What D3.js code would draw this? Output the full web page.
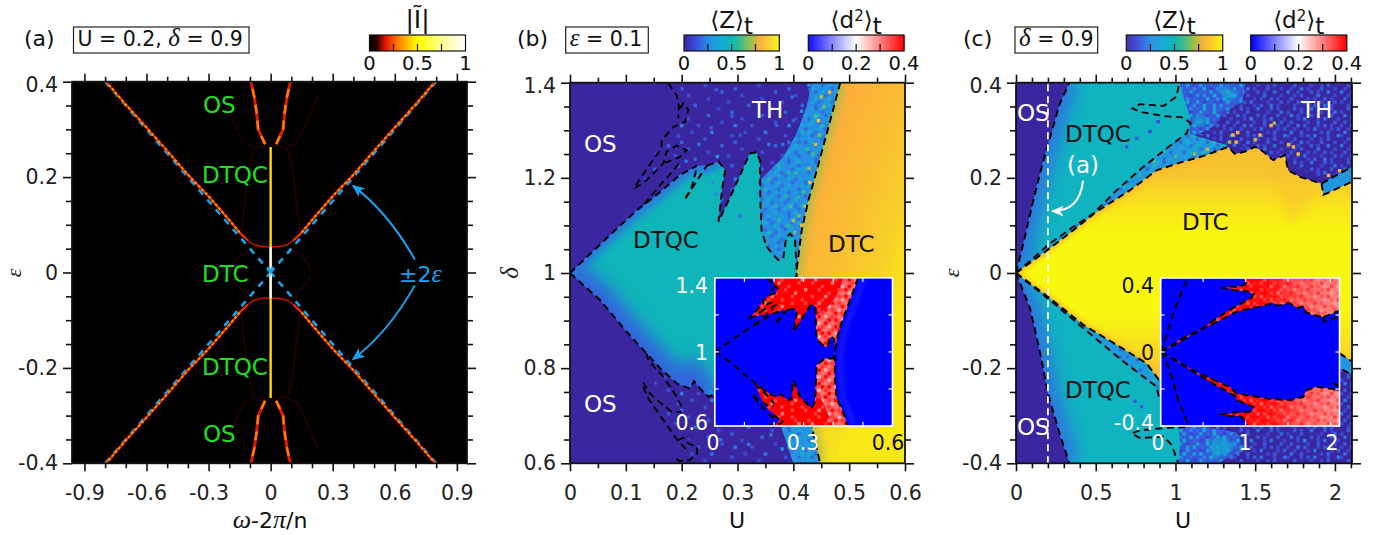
<!DOCTYPE html>
<html>
<head>
<meta charset="utf-8">
<script src="https://cdnjs.cloudflare.com/ajax/libs/d3/7.8.5/d3.min.js"></script>
<style>
  html, body { margin: 0; background: #fff; }
  svg text { font-family: "DejaVu Sans", sans-serif; fill: #222; }
</style>
</head>
<body>
<div id="vis"></div>
<script>
// ---- panel (a): spectral lines, one quadrant, [omega, eps]
var aMainLine = [[0,.054],[.04,.054],[.08,.058],[.11,.067],[.15,.084],[.2,.11],[.3,.16],[.4,.205],[.5,.255],[.6,.304],[.7,.352],[.795,.4]];
var aInnerLine = [[.027,.269],[.06,.3],[.068,.336],[.08,.37],[.095,.4]];
var aFaintLines = [
  [[0,.265],[.03,.265],[.08,.26],[.105,.22],[.13,.13],[.14,.09]],
  [[.08,.265],[.12,.27],[.15,.29],[.2,.34],[.23,.37]],
  [[.07,.055],[.13,.04],[.17,.025],[.195,.005]]
];
var aStripes = [.285,.31,.335,.365,.39];
var aGuide = [[.8,.4],[0,0]];
var aArrow = [[.697,.027],[.57,.125],[.4,.181]];
var aXTicks = [-.9,-.6,-.3,0,.3,.6,.9];
var aXMinor = [-.8,-.7,-.5,-.4,-.2,-.1,.1,.2,.4,.5,.7,.8];
var epsTicks = [-.4,-.2,0,.2,.4];
var epsMinor = [-.35,-.3,-.25,-.15,-.1,-.05,.05,.1,.15,.25,.3,.35];

// ---- panel (b): region edges, [U, delta]
var bDtcEdge = [[.484,1.4],[.463,1.307],[.442,1.216],[.427,1.153],[.415,1.09],[.406,1.007],[.405,.93],[.406,.85],[.4115,.749],[.433,.678],[.448,.6]];
var bTealUpper = [[0,1],[.081,1.09],[.119,1.131],[.155,1.164],[.197,1.206],[.227,1.225],[.245,1.226],[.266,1.234],[.278,1.216],[.273,1.181],[.266,1.108],[.287,1.16],[.322,1.251],[.334,1.254],[.34,1.237],[.341,1.153],[.343,1.09],[.352,1.055],[.373,1.027],[.382,1.031],[.387,1.073],[.394,1.083],[.403,1.069],[.406,1.007]];
var bTealLower = [[0,1],[.054,.943],[.101,.877],[.137,.831],[.161,.8],[.191,.768],[.215,.757],[.222,.773],[.233,.757],[.248,.74],[.259,.745],[.265,.848],[.287,.758],[.327,.695],[.338,.731],[.344,.929],[.372,.965],[.4,.965],[.406,1]];
var bBandLeft = [[.433,1.4],[.424,1.35],[.406,1.293],[.382,1.244],[.358,1.216],[.341,1.195]];
var bThTopEdge = [[.197,1.4],[.2,1.36],[.212,1.343],[.206,1.318],[.185,1.307],[.164,1.279],[.14,1.223],[.116,1.18],[.155,1.2],[.197,1.206]];
var bThBottomEdge = [[.35,.78],[.4,.6],[.203,.6],[.22,.64],[.18,.69],[.16,.74],[.135,.83]];
var bBandBottom = [[.4,.6],[.35,.78]];
var bBranch = [[.207,1.157],[.218,1.181],[.227,1.22]];
var bBranch2 = [[.207,1.157],[.245,1.226]];
var bLobes = [
  [[.176,1.399],[.191,1.374],[.195,1.35],[.194,1.325]],
  [[.197,1.346],[.203,1.357],[.212,1.343],[.206,1.318],[.185,1.307],[.164,1.279],[.164,1.262],[.14,1.223],[.116,1.181]],
  [[.116,1.178],[.137,1.195],[.167,1.23],[.173,1.255],[.191,1.268],[.209,1.258],[.197,1.244],[.167,1.23]],
  [[.133,1.145],[.167,1.192],[.197,1.232]],
  [[.137,.831],[.14,.817],[.167,.782],[.191,.74],[.2,.719]],
  [[.131,.77],[.143,.747],[.167,.722],[.182,.708],[.2,.708]],
  [[.131,.761],[.14,.737],[.161,.701],[.191,.651],[.209,.628]],
  [[.194,.649],[.203,.654],[.212,.642],[.227,.635],[.228,.621],[.215,.607],[.197,.605],[.185,.612]]
];
// single noisy cells in (b), [U, delta, Z]
var bCells = [[.262,1.385,.15],[.231,1.27,.2],[.208,1.235,.2],[.264,1.245,.3],[.305,1.29,.15],[.356,1.27,.2],[.381,1.27,.2],[.34,1.19,.2],[.337,1.17,.25],[.398,1.37,.2],[.415,1.34,.3],[.37,1.31,.15],[.29,1.33,.15],[.253,1.305,.15],[.4,1.32,.15],[.43,1.385,.2],[.428,1.395,.3],[.243,1.215,.2],[.256,1.19,.25],[.262,1.165,.25],[.305,1.12,.2],[.255,.755,.2],[.27,.65,.2],[.32,.64,.2],[.36,.66,.2],[.38,.63,.3],[.25,.75,.25],
  [.445,1.32,.85],[.44,1.27,.75],[.428,1.22,.7],[.43,1.19,.85],[.42,1.14,.7],[.41,1.12,.65],[.4,1.11,.7],[.415,1.1,.8],[.403,1.085,.65],[.39,1.1,.55],[.45,1.37,.75],[.465,1.38,.8],[.455,1.35,.65],[.447,1.29,.65],[.435,1.25,.6],[.418,1.17,.6],[.395,1.14,.6],[.41,1.16,.55],[.405,1.21,.55],[.425,1.26,.55],[.44,1.33,.6]];
var bXTicks = [0,.1,.2,.3,.4,.5,.6];
var bXMinor = [.05,.15,.25,.35,.45,.55];
var bYTicks = [.6,.8,1,1.2,1.4];
var bYMinor = [.65,.7,.75,.85,.9,.95,1.05,1.1,1.15,1.25,1.3,1.35];

// ---- panel (c): region edges, [U, eps]
var cOsUpper = [[0,0],[.046,.062],[.109,.153],[.15,.209],[.203,.273],[.276,.357],[.335,.4]];
var cOsLower = [[0,0],[.088,-.074],[.15,-.165],[.203,-.256],[.276,-.34],[.335,-.4]];
var cDtcUpper = [[0,0],[.213,.052],[.359,.09],[.506,.129],[.715,.174],[.882,.216],[1.028,.232],[1.175,.246],[1.331,.265],[1.373,.25],[1.436,.255],[1.498,.265],[1.551,.255],[1.613,.237],[1.686,.248],[1.707,.216],[1.781,.202],[1.916,.188]];
var cDtcTail = [[1.916,.188],[1.99,.202],[2.107,.223]];
var cYellowTopEdge = [[1.916,.188],[1.927,.164],[2.107,.192]];
var cDtcLower = [[0,0],[.213,-.053],[.422,-.109],[.631,-.151],[.819,-.19],[.895,-.224],[1.287,-.254],[1.523,-.26],[1.68,-.242],[1.719,-.206],[1.837,-.188]];
var cDtcLowerTail = [[1.837,-.188],[2.03,-.2],[2.107,-.214]];
var cYellowBottomEdge = [[1.837,-.165],[2.03,-.169],[2.107,-.186]];
var cOuterUpper = [[0,0],[.213,.062],[.359,.097],[.485,.125],[.631,.174],[.798,.223],[.945,.262],[1.07,.294],[1.095,.315],[1.049,.327],[.924,.33],[.777,.339],[.731,.346],[.777,.355],[.924,.351],[1.007,.371],[1.024,.4]];
var cOuterLower = [[0,0],[.213,-.057],[.422,-.116],[.673,-.186],[.882,-.239],[.895,-.26],[1.05,-.29],[1.091,-.296],[1.071,-.323],[.924,-.326],[.777,-.331],[.725,-.337],[.777,-.347],[.924,-.344],[.976,-.361],[1.018,-.4]];
var cTealUpperEdge = [[1.024,.4],[1.05,.37],[1.09,.33],[1.09,.294],[1.07,.273],[.945,.237],[.5,.1]];
var cTealLowerEdge = [[1.018,-.4],[1.03,-.36],[1.02,-.327],[1.09,-.294],[.945,-.237],[.5,-.1]];
var cFringeUpper = [[1.02,.4],[1.44,.4],[1.42,.36],[1.3,.335],[1.25,.31],[1.1,.285],[1.05,.33]];
var cFringeLower = [[1.0,-.4],[1.26,-.4],[1.44,-.37],[1.38,-.335],[1.1,-.32],[1.0,-.33]];
var cBlobs = [[[1.26,.388],[1.34,.39],[1.39,.372],[1.32,.36]],[[1.12,.328],[1.19,.33],[1.19,.314],[1.11,.305]],[[1.22,-.39],[1.3,-.385],[1.38,-.362],[1.3,-.345],[1.22,-.35]]];
var cThUpperEdge = [[2.107,.223],[2.107,.4],[.98,.4],[1.013,.361],[.75,.348],[1.09,.316],[1.07,.294],[.945,.262],[.798,.223],[.631,.174],[.485,.125],[.359,.097],[.213,.062],[0,0]];
var cThLowerEdge = [[.213,-.057],[.422,-.116],[.673,-.186],[.882,-.239],[.895,-.26],[1.091,-.296],[1.071,-.323],[.72,-.337],[.97,-.35],[1.02,-.4],[2.107,-.4],[2.107,-.214],[2.03,-.2],[1.837,-.188]];
var cNoiseZone = [[1.02,.4],[2.107,.4],[2.107,-.4],[.95,-.4],[.95,-.3],[2.02,-.17],[2.02,.19],[1.33,.27],[1.07,.3]];
var cFaintWedge = [[1.6,.23],[1.9,.175],[1.72,.105]];
var cCells = [[.694,.265,.15],[.757,.283,.15],[.84,.297,.12],[.892,.318,.12],[.746,-.27,.15],[.788,-.281,.15],
  [1.36,.29,.85],[1.39,.295,.8],[1.53,.29,.8],[1.6,.31,.8],[1.62,.315,.7],[1.74,.265,.8],[1.77,.25,.85],[1.71,.27,.8],[1.38,.275,.85],[1.34,.275,.7],[1.12,.25,.7],[1.0,.245,.6],[.87,.235,.6],[.78,.205,.55],[1.2,.26,.75],[1.5,.28,.75],[1.96,.205,.8],[2.03,.215,.8]];
var cXTicks = [0,.5,1,1.5,2];
var cXMinor = [.1,.2,.3,.4,.6,.7,.8,.9,1.1,1.2,1.3,1.4,1.6,1.7,1.8,1.9,2.1];

// ---- colour scales and colourbar ticks
var zStops = [[0,"#3a27a0"],[.1,"#3a44d6"],[.25,"#2a8be6"],[.4,"#12aed0"],[.5,"#0fb6b6"],[.6,"#45bc8a"],[.7,"#9dbd4c"],[.8,"#fbb03a"],[.9,"#f7d028"],[1,"#f8f80f"]];
var iStops = [[0,"#000000"],[.08,"#300000"],[.16,"#e01000"],[.3,"#ff8000"],[.5,"#ffff00"],[.75,"#ffff90"],[1,"#ffffff"]];
var d2Stops = [[0,"#0000ff"],[.2,"#ffffff"],[.4,"#ff0000"]];
var zBarTicks = [0,.5,1], zBarInner = [.25,.5,.75];
var d2BarTicks = [0,.2,.4], d2BarInner = [.1,.2,.3];

// hand-read texture tiles, one character per map cell ('.' = no change)
var thTile = ["......1.........","..........2.....","...2............",".............1..",".......1........","1..........3....","................","....3.........1.","..........1.....","..1.............","...........2....",".......2........",".............1..","...1............",".........1......","...............2"];
var cThTile = ["..2.1..3...2.1..","1...2.....1...3.",".3.1...2.1...2..","...1.4...1.3...1",".2....1..2....2.","1..3.2...1.2.1..","..1...1.3....1.2",".3..2.....1.2...","1...1.2.3...1..3","..2....1..1.2...",".1..3.1...2...1.","3..1...2.1..3...","..1.2....3....1.",".2....1.1..2.1..","1..2.3....1...2.","..1...1.2..3.1.."];
var bandTile = ["3.42.5.3.4.2.34.",".3.4.2.36.3.4.2.","4.3.5.2.4.3.2.53",".2.4.3.5.2.6.3..","3.5.2.3.4.2.4.3.",".4.3.6.2.3.5.2.4","2.3.4.2.5.3.2.3.",".5.2.3.4.2.4.3.5","3.2.6.3.2.5.3.2.",".4.3.2.4.3.2.4.3","2.5.3.4.2.6.3.2.",".3.2.5.3.4.2.5.3","4.3.4.2.3.2.4.3.",".2.5.3.6.3.5.2.4","3.4.2.4.2.4.3.2.",".3.2.3.5.3.2.4.3"];
var fringeTile = ["5..3.2.5..4.2.5.",".4.1..4.2.5..1.3","2..5.3..1..4.5..",".5..2.1.4.2..3.1","3.1..4..5..1.4..","..4.5.2..3.5..2.","1.3...1.4..2..5.",".5..4.5..1.4.3..","3..2...3.5..1..4","..5.1.4..2..5.2.","4...3..5.1.3...1",".2.5..2..4..2.5.","5..1.4.3..5.1..3","..3.2...5..3.4..","2.5..4.1.2..1.5.",".1..3..5..4.3..2"];
var redTile = ["8.7.8.6.8.7.8.8.","..8.7.8.8.6.8.7.","7.8.8.7.8.8.7.8.",".8.6.8.8.7.8.8.6","8.7.8.8.6.8.8.7.",".8.8.7.8.8.7.8.8","6.8.7.8.8.7.8.8.",".8.8.8.7.8.8.6.8","8.7.8.6.8.8.7.8.",".8.8.7.8.7.8.8.7","7.8.6.8.8.8.7.8.",".8.7.8.8.6.8.8.8","8.8.7.8.7.8.7.8.",".7.8.8.6.8.8.7.8","8.6.8.7.8.8.8.6.",".8.7.8.8.7.8.8.7"];
var pinkTile = ["5.6.4.7.5.6.8.5.",".7.5.6.4.7.5.6.7","6.4.7.5.6.8.5.4.",".5.6.8.7.4.6.7.5","7.5.4.6.5.7.5.6.",".6.7.5.8.6.4.7.4","5.4.6.7.5.6.7.5.",".7.5.4.6.8.5.4.6","6.6.7.5.4.6.7.5.",".4.5.7.6.5.4.6.7","7.6.4.5.7.6.5.4.",".5.7.6.4.5.8.6.5","4.6.5.7.6.4.5.7.",".7.4.6.5.7.6.5.4","6.5.7.4.6.5.7.6.",".4.6.5.7.8.4.5.7"];

var width = 1385, height = 535;
var svg = d3.select("#vis").append("svg").attr("width", width).attr("height", height)
  .style("display", "block");
var defs = svg.append("defs");

function stopScale(stops) {
  return d3.scaleLinear().domain(stops.map(function(s) { return s[0]; }))
    .range(stops.map(function(s) { return s[1]; })).clamp(true);
}
var zColor = stopScale(zStops), iColor = stopScale(iStops), d2Color = stopScale(d2Stops);

var line = function(x, y) { return d3.line().x(function(d) { return x(d[0]); }).y(function(d) { return y(d[1]); }); };
function rev(a) { return a.slice().reverse(); }

// blur filters
[["blur2",2],["blur4",4],["blur8",8],["blur1",.7]].forEach(function(b) {
  defs.append("filter").attr("id", b[0]).attr("x", "-30%").attr("y", "-30%").attr("width", "160%").attr("height", "160%")
    .append("feGaussianBlur").attr("stdDeviation", b[1]);
});

// texture tile -> svg pattern
function makePattern(id, tile, colorOf) {
  var cell = 3.35;
  var p = defs.append("pattern").attr("id", id).attr("patternUnits", "userSpaceOnUse")
    .attr("width", cell * tile[0].length).attr("height", cell * tile.length);
  tile.forEach(function(row, r) {
    row.split("").forEach(function(ch, c) {
      if (ch === ".") return;
      p.append("rect").attr("x", c * cell).attr("y", r * cell).attr("width", cell).attr("height", cell)
        .attr("fill", colorOf(+ch));
    });
  });
}
makePattern("thSpeck", thTile, function(v) { return zColor(.08 + v * .05); });
makePattern("cThSpeck", cThTile, function(v) { return zColor(.06 + v * .05); });
makePattern("bandSpeck", bandTile, function(v) { return zColor(v * .09); });
makePattern("fringeSpeck", fringeTile, function(v) { return zColor(v * .085); });
makePattern("redSpeck", redTile, function(v) { return d2Color(v * .05); });
makePattern("pinkSpeck", pinkTile, function(v) { return d2Color(.06 + v * .05); });

function clipRect(id, x, y, w, h) {
  defs.append("clipPath").attr("id", id).append("rect").attr("x", x).attr("y", y).attr("width", w).attr("height", h);
}
function clipPoly(id, d) { defs.append("clipPath").attr("id", id).append("path").attr("d", d); }

function poly(g, pts, x, y, fill) {
  return g.append("path").attr("d", line(x, y)(pts) + "Z").attr("fill", fill);
}
function dashed(g, pts, x, y, w) {
  return g.append("path").attr("d", line(x, y)(pts)).attr("fill", "none").attr("stroke", "#000")
    .attr("stroke-width", w || 2).attr("stroke-dasharray", "7 4.5");
}

// ticks on all four sides
function frame(g, x, y, xt, xm, yt, ym) {
  var h = y.range()[0], tp = y.range()[1], l = x.range()[0], r = x.range()[1];
  function add(axis, dx, dy) {
    var a = g.append("g").attr("transform", "translate(" + dx + "," + dy + ")").call(axis);
    a.select(".domain").remove();
    a.selectAll("line").attr("stroke", "#111").attr("stroke-width", 1.6);
    a.selectAll("text").style("font-size", "20.5px").style("font-family", "DejaVu Sans");
    return a;
  }
  var fmt = function(d) { return String(d); };
  add(d3.axisBottom(x).tickValues(xt).tickSize(8).tickPadding(14).tickFormat(fmt), 0, h);
  add(d3.axisBottom(x).tickValues(xm).tickSize(5).tickFormat(""), 0, h);
  add(d3.axisTop(x).tickValues(xt).tickSize(8).tickFormat(""), 0, tp);
  add(d3.axisTop(x).tickValues(xm).tickSize(5).tickFormat(""), 0, tp);
  var left = add(d3.axisLeft(y).tickValues(yt).tickSize(9).tickPadding(5).tickFormat(fmt), l, 0);
  // the top label sits a little below its tick
  left.selectAll("text").filter(function(d) { return d === y.domain()[1]; }).attr("dy", "0.47em");
  add(d3.axisLeft(y).tickValues(ym).tickSize(6).tickFormat(""), l, 0);
  add(d3.axisRight(y).tickValues(yt).tickSize(9).tickFormat(""), r, 0);
  add(d3.axisRight(y).tickValues(ym).tickSize(6).tickFormat(""), r, 0);
  g.append("rect").attr("x", l).attr("y", tp).attr("width", r - l).attr("height", h - tp)
    .attr("fill", "none").attr("stroke", "#111").attr("stroke-width", 1.8);
}

function label(txt, px, py, color, size) {
  return svg.append("text").attr("x", px).attr("y", py).text(txt)
    .style("fill", color || "#111").style("font-size", (size || 23) + "px");
}
function greek(sel, txt, size) {
  sel.append("tspan").text(txt).style("font-family", "Liberation Serif").style("font-style", "italic").style("font-size", (size || 25) + "px");
}

// boxed caption with (panel) tag
function caption(tag, tagX, bx, bw, parts) {
  label(tag, tagX, 46, "#111", 22);
  svg.append("rect").attr("x", bx).attr("y", 27).attr("width", bw).attr("height", 26)
    .attr("fill", "#fff").attr("stroke", "#222").attr("stroke-width", 1.2);
  var t = svg.append("text").attr("x", bx + 4).attr("y", 46).style("font-size", "20.5px").style("fill", "#111");
  parts.forEach(function(p) {
    if (p[1]) greek(t, p[0]); else t.append("tspan").text(p[0]);
  });
}

function colorbar(x0, x1, domain, colorOf, ticks, inner, title, titleSize) {
  var bx = d3.scaleLinear().domain(domain).range([x0, x1]);
  var cells = d3.range(0, 96);
  svg.append("g").selectAll("rect").data(cells).enter().append("rect")
    .attr("x", function(d) { return x0 + d * (x1 - x0) / 96; })
    .attr("y", 35).attr("width", (x1 - x0) / 96 + .5).attr("height", 16)
    .attr("fill", function(d) { return colorOf(domain[0] + (d + .5) / 96 * (domain[1] - domain[0])); });
  svg.append("rect").attr("x", x0).attr("y", 35).attr("width", x1 - x0).attr("height", 16)
    .attr("fill", "none").attr("stroke", "#111").attr("stroke-width", 1.2);
  inner.forEach(function(v) {
    svg.append("line").attr("x1", bx(v)).attr("x2", bx(v)).attr("y1", 51).attr("y2", 44)
      .attr("stroke", "#111").attr("stroke-width", 1.2);
  });
  ticks.forEach(function(v) {
    label(String(v), bx(v), 70, "#111", 19.5).attr("text-anchor", "middle");
  });
  var t = svg.append("text").attr("x", (x0 + x1) / 2).attr("y", 28).attr("text-anchor", "middle")
    .style("font-size", (titleSize || 23) + "px").style("fill", "#111");
  title.forEach(function(p) {
    var s = t.append("tspan").text(p[0]);
    if (p[1]) s.attr("dy", p[1]);
    if (p[2]) s.style("font-size", p[2] + "px");
  });
}

// ======= panel (a)
(function() {
  var x = d3.scaleLinear().domain([-.96, .949]).range([72, 467]);
  var y = d3.scaleLinear().domain([-.4, .4]).range([463.3, 81.7]);
  clipRect("clipA", 72, 81.7, 395, 381.6);
  var g = svg.append("g").attr("clip-path", "url(#clipA)");
  g.append("rect").attr("x", 72).attr("y", 81.7).attr("width", 395).attr("height", 381.6).attr("fill", iColor(0));

  var signs = [[1,1],[-1,1],[1,-1],[-1,-1]];
  function mirrored(pts, s) { return pts.map(function(d) { return [d[0] * s[0], d[1] * s[1]]; }); }
  var gen = line(x, y);

  // faint bands between the inner lines
  [1, -1].forEach(function(s) {
    aStripes.forEach(function(e) {
      g.append("path").attr("d", gen([[-.19, e * s],[.19, e * s]])).attr("fill", "none")
        .attr("stroke", iColor(.11)).attr("stroke-width", 2.5).attr("opacity", .35).attr("filter", "url(#blur1)");
    });
  });
  signs.forEach(function(s) {
    aFaintLines.forEach(function(f) {
      g.append("path").attr("d", gen(mirrored(f, s))).attr("fill", "none")
        .attr("stroke", iColor(.1)).attr("stroke-width", 1.2).attr("opacity", .5);
    });
    g.append("path").attr("d", gen(mirrored(aMainLine.slice(3), s))).attr("fill", "none")
      .attr("stroke", iColor(.12)).attr("stroke-width", 5).attr("opacity", .3).attr("filter", "url(#blur2)");
    // dashed +-2eps guide
    g.append("path").attr("d", gen(mirrored(aGuide, s))).attr("fill", "none")
      .attr("stroke", "#18a4ec").attr("stroke-width", 2.6).attr("stroke-dasharray", "6.5 6.5");
  });
  signs.forEach(function(s) {
    g.append("path").attr("d", gen(mirrored(aMainLine.slice(0, 5), s))).attr("fill", "none")
      .attr("stroke", iColor(.15)).attr("stroke-width", 1.5);
    g.append("path").attr("d", gen(mirrored(aMainLine.slice(3), s))).attr("fill", "none")
      .attr("stroke", iColor(.2)).attr("stroke-width", 2.2);
    g.append("path").attr("d", gen(mirrored(aMainLine.slice(4), s))).attr("fill", "none")
      .attr("stroke", iColor(.34)).attr("stroke-width", 2).attr("stroke-dasharray", "2.5 2.5");
    g.append("path").attr("d", gen(mirrored(aInnerLine, s))).attr("fill", "none")
      .attr("stroke", iColor(.17)).attr("stroke-width", 3);
    g.append("path").attr("d", gen(mirrored(aInnerLine, s))).attr("fill", "none")
      .attr("stroke", iColor(.3)).attr("stroke-width", 2.4).attr("stroke-dasharray", "9 7");
  });
  g.append("path").attr("d", gen([[0,-.263],[0,.263]])).attr("stroke", iColor(.44)).attr("stroke-width", 2.4).attr("fill", "none");
  g.append("path").attr("d", gen([[0,-.054],[0,.054]])).attr("stroke", iColor(1)).attr("stroke-width", 2.2).attr("fill", "none");
  g.append("path").attr("d", gen([[-.012,.012],[0,0],[.012,.012]])).attr("stroke", "#18a4ec").attr("stroke-width", 2.6).attr("fill", "none");

  frame(svg.append("g"), x, y, aXTicks, aXMinor, epsTicks, epsMinor);

  // arrows to the lines
  defs.append("marker").attr("id", "arrowBlue").attr("viewBox", "0 0 12 10").attr("refX", 10).attr("refY", 5)
    .attr("markerWidth", 13).attr("markerHeight", 11).attr("markerUnits", "userSpaceOnUse").attr("orient", "auto")
    .append("path").attr("d", "M0,0L12,5L0,10L3,5Z").attr("fill", "#18a4ec");
  [1, -1].forEach(function(s) {
    var p = d3.path();
    p.moveTo(x(aArrow[0][0]), y(aArrow[0][1] * s));
    p.quadraticCurveTo(x(aArrow[1][0]), y(aArrow[1][1] * s), x(aArrow[2][0]), y(aArrow[2][1] * s));
    svg.append("path").attr("d", p.toString()).attr("fill", "none").attr("stroke", "#18a4ec")
      .attr("stroke-width", 2).attr("marker-end", "url(#arrowBlue)");
  });
  var pm = label("±2", 399, 282, "#18a4ec", 22);
  pm.append("tspan").text("ε").style("font-family", "Liberation Serif").style("font-style", "italic").style("font-size", "26px").style("fill", "#18a4ec");

  [["OS",203,113],["DTQC",202,183],["DTC",202,282],["DTQC",202,375],["OS",203,442]].forEach(function(t) {
    label(t[0], t[1], t[2], "#1fe01f");
  });
  var xl = svg.append("text").attr("x", 270).attr("y", 528).attr("text-anchor", "middle").style("font-size", "22px").style("fill", "#111");
  greek(xl, "ω", 26);
  xl.append("tspan").text("-2");
  greek(xl, "π", 26);
  xl.append("tspan").text("/n");
  // kept clear of the page edge
  var yl = svg.append("text").attr("transform", "translate(21,273) rotate(-90)").attr("text-anchor", "middle");
  greek(yl, "ε", 22);

  caption("(a)", 24, 73.5, 175.5, [["U = 0.2, "],["δ",1],[" = 0.9"]]);
  colorbar(369.5, 465.5, [0, 1], iColor, zBarTicks, zBarInner, [["|Ĩ|"]], 25);
})();

// ======= panel (b)
(function() {
  var x = d3.scaleLinear().domain([0, .6]).range([570, 905]);
  var y = d3.scaleLinear().domain([.6, 1.4]).range([463.3, 82.7]);
  clipRect("clipB", 570, 82.7, 335, 380.6);
  var g = svg.append("g").attr("clip-path", "url(#clipB)");
  g.append("rect").attr("x", 570).attr("y", 82.7).attr("width", 335).attr("height", 380.6).attr("fill", zColor(.0));

  var thUp = bThTopEdge.concat(bTealUpper.slice(5, 15)).concat(rev(bBandLeft));
  var thLow = bTealLower.slice(3, 15).concat(bThBottomEdge);
  var band = bBandLeft.concat(bTealUpper.slice(15)).concat(rev(bDtcEdge.slice(0, 6)));
  var bandLow = bTealLower.slice(14).concat(bDtcEdge.slice(6)).concat(bBandBottom);
  var teal = bTealUpper.concat(rev(bTealLower));
  var dtc = bDtcEdge.concat([[.6,.6],[.6,1.4]]);

  poly(g, thUp, x, y, "url(#thSpeck)");
  poly(g, thLow, x, y, "url(#thSpeck)");

  poly(g, band, x, y, zColor(.26));
  poly(g, band, x, y, "url(#bandSpeck)");
  poly(g, bandLow, x, y, zColor(.3));
  poly(g, bandLow, x, y, "url(#bandSpeck)");

  poly(g, teal, x, y, zColor(.49));
  clipPoly("clipTealB", line(x, y)(teal) + "Z");
  var edgeGlow = g.append("g").attr("clip-path", "url(#clipTealB)");
  edgeGlow.append("path").attr("d", line(x, y)(bTealUpper.slice(0, 8))).attr("fill", "none")
    .attr("stroke", zColor(.2)).attr("stroke-width", 12).attr("filter", "url(#blur4)");
  edgeGlow.append("path").attr("d", line(x, y)(bTealLower.slice(0, 11))).attr("fill", "none")
    .attr("stroke", zColor(.17)).attr("stroke-width", 30).attr("filter", "url(#blur8)");

  // noisy cells
  g.append("g").selectAll("rect").data(bCells).enter().append("rect")
    .attr("x", function(d) { return x(d[0]) - 1.7; }).attr("y", function(d) { return y(d[1]) - 1.7; })
    .attr("width", 3.35).attr("height", 3.35).attr("fill", function(d) { return zColor(d[2]); });

  // DTC side runs from orange at the edge to yellow on the right
  var grad = defs.append("linearGradient").attr("id", "dtcB").attr("gradientUnits", "userSpaceOnUse")
    .attr("x1", x(.41)).attr("y1", y(1.1)).attr("x2", x(.62)).attr("y2", y(1.0));
  [[0,.8],[.35,.84],[.7,.9],[1,.96]].forEach(function(s) {
    grad.append("stop").attr("offset", s[0]).attr("stop-color", zColor(s[1]));
  });
  poly(g, dtc, x, y, "url(#dtcB)");
  clipPoly("clipDtcB", line(x, y)(dtc) + "Z");
  g.append("g").attr("clip-path", "url(#clipDtcB)").append("path").attr("d", line(x, y)(bDtcEdge))
    .attr("fill", "none").attr("stroke", zColor(.7)).attr("stroke-width", 8).attr("filter", "url(#blur4)");

  // dashed phase boundaries
  function bLines(layer, w, sx, sy) {
    dashed(layer, bDtcEdge, sx, sy, w);
    dashed(layer, bTealUpper.slice(0, 6), sx, sy, w);
    dashed(layer, bTealUpper.slice(6, 24), sx, sy, w);
    dashed(layer, bBranch2.concat(bTealUpper.slice(6, 7)), sx, sy, w);
    dashed(layer, bBranch, sx, sy, w);
    dashed(layer, bTealLower, sx, sy, w);
    bLobes.forEach(function(l) { dashed(layer, l, sx, sy, w); });
  }
  bLines(g, 1.9, x, y);

  [["OS",584,152,"#fff"],["OS",584,412,"#fff"],["TH",752,118,"#fff"],["DTQC",633,248,"#111"],["DTC",828,252,"#111"]].forEach(function(t) {
    label(t[0], t[1], t[2], t[3]);
  });

  // inset: d^2 map on the same edges
  var ix = d3.scaleLinear().domain([0, .6]).range([714.8, 892.5]);
  var iy = d3.scaleLinear().domain([.6, 1.4]).range([426, 277.8]);
  svg.append("rect").attr("x", 714.8).attr("y", 277.8).attr("width", 177.7).attr("height", 148.2).attr("fill", d2Color(0));
  clipRect("clipBi", 714.8, 277.8, 177.7, 148.2);
  var ig = svg.append("g").attr("clip-path", "url(#clipBi)");
  [thUp, thLow].forEach(function(p) {
    poly(ig, p, ix, iy, d2Color(.4));
    poly(ig, p, ix, iy, "url(#redSpeck)");
  });
  [band, bandLow].forEach(function(p) {
    poly(ig, p, ix, iy, d2Color(.33));
    poly(ig, p, ix, iy, "url(#pinkSpeck)");
  });
  ig.append("path").attr("d", line(ix, iy)(bDtcEdge.map(function(d) { return [d[0] + .02, d[1]]; }))).attr("fill", "none")
    .attr("stroke", "#3a4cff").attr("stroke-width", 5).attr("opacity", .35).attr("filter", "url(#blur2)");
  bLines(ig, 2, ix, iy);
  insetFrame(ix, iy, [0,.1,.2,.3,.4,.5,.6], [.6,.8,1,1.2,1.4]);

  frame(svg.append("g"), x, y, bXTicks, bXMinor, bYTicks, bYMinor);
  [["1.4",708,293,"#fff"],["1",708,360,"#fff"],["0.6",708,430,"#fff"]].forEach(function(t) {
    label(t[0], t[1], t[2], t[3], 20.5).attr("text-anchor", "end");
  });
  [["0",713,"#fff"],["0.3",803,"#fff"],["0.6",888,"#111"]].forEach(function(t) {
    label(t[0], t[1], 450, t[2], 20.5).attr("text-anchor", "middle");
  });

  label("U", 737, 528, "#111", 22).attr("text-anchor", "middle");
  var yl = svg.append("text").attr("transform", "translate(518,273) rotate(-90)").attr("text-anchor", "middle");
  greek(yl, "δ");

  caption("(b)", 517, 565.7, 82.6, [["ε",1],[" = 0.1"]]);
  colorbar(684, 779.3, [0, 1], zColor, zBarTicks, zBarInner, [["⟨Z⟩"],["t",6]]);
  colorbar(808.3, 904, [0, .4], d2Color, d2BarTicks, d2BarInner, [["⟨d"],["2",-7,15],["⟩",7],["t",6]]);
})();

function insetFrame(ix, iy, xt, yt) {
  var l = ix.range()[0], r = ix.range()[1], b = iy.range()[0], t = iy.range()[1];
  var f = svg.append("g");
  xt.forEach(function(v) {
    f.append("line").attr("x1", ix(v)).attr("x2", ix(v)).attr("y1", b).attr("y2", b - 4).attr("stroke", "#fff").attr("stroke-width", 1.2);
    f.append("line").attr("x1", ix(v)).attr("x2", ix(v)).attr("y1", t).attr("y2", t + 4).attr("stroke", "#fff").attr("stroke-width", 1.2);
  });
  yt.forEach(function(v) {
    f.append("line").attr("y1", iy(v)).attr("y2", iy(v)).attr("x1", l).attr("x2", l + 4).attr("stroke", "#fff").attr("stroke-width", 1.2);
    f.append("line").attr("y1", iy(v)).attr("y2", iy(v)).attr("x1", r).attr("x2", r - 4).attr("stroke", "#fff").attr("stroke-width", 1.2);
  });
  f.append("rect").attr("x", l).attr("y", t).attr("width", r - l).attr("height", b - t)
    .attr("fill", "none").attr("stroke", "#fff").attr("stroke-width", 1.6);
}

// ======= panel (c)
(function() {
  var x = d3.scaleLinear().domain([0, 2.107]).range([1016, 1352]);
  var y = d3.scaleLinear().domain([-.4, .4]).range([463.3, 82.7]);
  clipRect("clipC", 1016, 82.7, 336, 380.6);
  var g = svg.append("g").attr("clip-path", "url(#clipC)");
  g.append("rect").attr("x", 1016).attr("y", 82.7).attr("width", 336).attr("height", 380.6).attr("fill", zColor(0));

  poly(g, cNoiseZone, x, y, "url(#cThSpeck)");

  var tealUp = cOsUpper.concat(cTealUpperEdge);
  var tealLow = cOsLower.concat(cTealLowerEdge);
  // speckled fringe first, the solid teal goes over it
  [cFringeUpper, cFringeLower].forEach(function(p) {
    poly(g, p, x, y, zColor(.14));
    poly(g, p, x, y, "url(#fringeSpeck)");
  });
  cBlobs.forEach(function(p) { poly(g, p, x, y, zColor(.38)).attr("filter", "url(#blur2)").attr("opacity", .8); });
  poly(g, tealUp, x, y, zColor(.46));
  poly(g, tealLow, x, y, zColor(.46));

  var stripUp = cOuterUpper.slice(0, 8).concat([[1.33,.268]]).concat(rev(cDtcUpper.slice(0, 8)));
  var stripLow = cOuterLower.slice(0, 6).concat(rev(cDtcLower.slice(0, 6)));
  [stripUp, stripLow].forEach(function(p) {
    poly(g, p, x, y, zColor(.33));
    poly(g, p, x, y, "url(#bandSpeck)");
  });

  clipPoly("clipTealC", line(x, y)(tealUp) + "Z" + line(x, y)(tealLow) + "Z");
  var glow = g.append("g").attr("clip-path", "url(#clipTealC)");
  [cOsUpper, cOsLower].forEach(function(p) {
    glow.append("path").attr("d", line(x, y)(p)).attr("fill", "none")
      .attr("stroke", zColor(.2)).attr("stroke-width", 20).attr("filter", "url(#blur8)");
  });

  g.append("g").selectAll("rect").data(cCells).enter().append("rect")
    .attr("x", function(d) { return x(d[0]) - 1.7; }).attr("y", function(d) { return y(d[1]) - 1.7; })
    .attr("width", 3.35).attr("height", 3.35).attr("fill", function(d) { return zColor(d[2]); });

  // right hand strips between the double dashes
  var tailUp = cDtcTail.concat(rev(cYellowTopEdge));
  var tailLow = cDtcLowerTail.concat(rev(cYellowBottomEdge));
  poly(g, tailUp, x, y, zColor(.3));
  poly(g, tailLow, x, y, zColor(.3));

  // DTC body, vertical run from orange to yellow
  var dtc = cDtcUpper.concat(cYellowTopEdge.slice(1)).concat(rev(cYellowBottomEdge.slice(1))).concat([[1.837,-.165]]).concat(rev(cDtcLower));
  var grad = defs.append("linearGradient").attr("id", "dtcC").attr("gradientUnits", "userSpaceOnUse")
    .attr("x1", 0).attr("x2", 0).attr("y1", y(.27)).attr("y2", y(-.27));
  [[0,.84],[.12,.865],[.24,.95],[.36,1],[.64,1],[.76,.95],[.88,.865],[1,.84]].forEach(function(s) {
    grad.append("stop").attr("offset", s[0]).attr("stop-color", zColor(s[1]));
  });
  poly(g, dtc, x, y, "url(#dtcC)");
  clipPoly("clipDtcC", line(x, y)(dtc) + "Z");
  var dg = g.append("g").attr("clip-path", "url(#clipDtcC)");
  poly(dg, cFaintWedge, x, y, zColor(.85)).attr("filter", "url(#blur4)").attr("opacity", .55);
  [cDtcUpper, cDtcLower].forEach(function(p) {
    dg.append("path").attr("d", line(x, y)(p.slice(0, 8))).attr("fill", "none")
      .attr("stroke", zColor(.82)).attr("stroke-width", 6).attr("opacity", .8).attr("filter", "url(#blur2)");
  });

  function cLines(layer, w, sx, sy) {
    [cOsUpper, cOsLower, cDtcUpper, cDtcTail, cYellowTopEdge, cDtcLower, cDtcLowerTail, cYellowBottomEdge.slice(1), cOuterUpper, cOuterLower].forEach(function(l) {
      dashed(layer, l, sx, sy, w);
    });
  }
  cLines(g, 1.9, x, y);

  // guide at U = 0.2
  g.append("path").attr("d", line(x, y)([[.2,-.4],[.2,.4]])).attr("stroke", "#fff").attr("stroke-width", 1.8)
    .attr("stroke-dasharray", "7 5").attr("fill", "none");

  [["OS",1017,121,"#fff"],["OS",1017,435,"#fff"],["DTQC",1065,142,"#111"],["DTQC",1065,398,"#111"],["TH",1301,118,"#fff"],["DTC",1182,230,"#111"],["(a)",1067,173,"#fff"]].forEach(function(t) {
    label(t[0], t[1], t[2], t[3]);
  });
  defs.append("marker").attr("id", "arrowWhite").attr("viewBox", "0 0 12 10").attr("refX", 10).attr("refY", 5)
    .attr("markerWidth", 13).attr("markerHeight", 11).attr("markerUnits", "userSpaceOnUse").attr("orient", "auto")
    .append("path").attr("d", "M0,0L12,5L0,10L3,5Z").attr("fill", "#fff");
  var ap = d3.path();
  ap.moveTo(x(.42), y(.194));
  ap.quadraticCurveTo(x(.4), y(.13), x(.23), y(.13));
  svg.append("path").attr("d", ap.toString()).attr("fill", "none").attr("stroke", "#fff").attr("stroke-width", 2)
    .attr("marker-end", "url(#arrowWhite)");

  // inset
  var ix = d3.scaleLinear().domain([0, 2.107]).range([1160.7, 1339.5]);
  var iy = d3.scaleLinear().domain([-.4, .4]).range([426, 278]);
  svg.append("rect").attr("x", 1160.7).attr("y", 278).attr("width", 178.8).attr("height", 148).attr("fill", d2Color(0));
  clipRect("clipCi", 1160.7, 278, 178.8, 148);
  var ig = svg.append("g").attr("clip-path", "url(#clipCi)");
  var gradI = defs.append("linearGradient").attr("id", "thC").attr("gradientUnits", "userSpaceOnUse")
    .attr("x1", ix(.9)).attr("x2", ix(2)).attr("y1", 0).attr("y2", 0);
  [[0,.4],[.35,.39],[.7,.33],[1,.3]].forEach(function(s) {
    gradI.append("stop").attr("offset", s[0]).attr("stop-color", d2Color(s[1]));
  });
  var thUp = cDtcUpper.concat(cDtcTail.slice(1)).concat(cThUpperEdge.slice(1));
  var thLow = cOuterLower.slice(0, 1).concat(cThLowerEdge).concat(rev(cDtcLower).slice(0, 10));
  [thUp, thLow].forEach(function(p) {
    poly(ig, p, ix, iy, "url(#thC)");
    poly(ig, p, ix, iy, "url(#pinkSpeck)").attr("opacity", .5);
  });
  cLines(ig, 2.1, ix, iy);
  insetFrame(ix, iy, [0,.5,1,1.5,2], [-.4,-.2,0,.2,.4]);

  frame(svg.append("g"), x, y, cXTicks, cXMinor, epsTicks, epsMinor);
  [["0.4",1154,293,"#111"],["0",1154,360,"#111"],["-0.4",1154,430,"#fff"]].forEach(function(t) {
    label(t[0], t[1], t[2], t[3], 20.5).attr("text-anchor", "end");
  });
  [["0",1158],["1",1245],["2",1332]].forEach(function(t) {
    label(t[0], t[1], 450, "#fff", 20.5).attr("text-anchor", "middle");
  });

  label("U", 1183, 528, "#111", 22).attr("text-anchor", "middle");
  var yl = svg.append("text").attr("transform", "translate(959,273) rotate(-90)").attr("text-anchor", "middle");
  greek(yl, "ε", 22);

  caption("(c)", 963, 1015, 82.7, [["δ",1],[" = 0.9"]]);
  colorbar(1126.3, 1222.7, [0, 1], zColor, zBarTicks, zBarInner, [["⟨Z⟩"],["t",6]]);
  colorbar(1250.7, 1346.7, [0, .4], d2Color, d2BarTicks, d2BarInner, [["⟨d"],["2",-7,15],["⟩",7],["t",6]]);
})();
</script>
</body>
</html>
